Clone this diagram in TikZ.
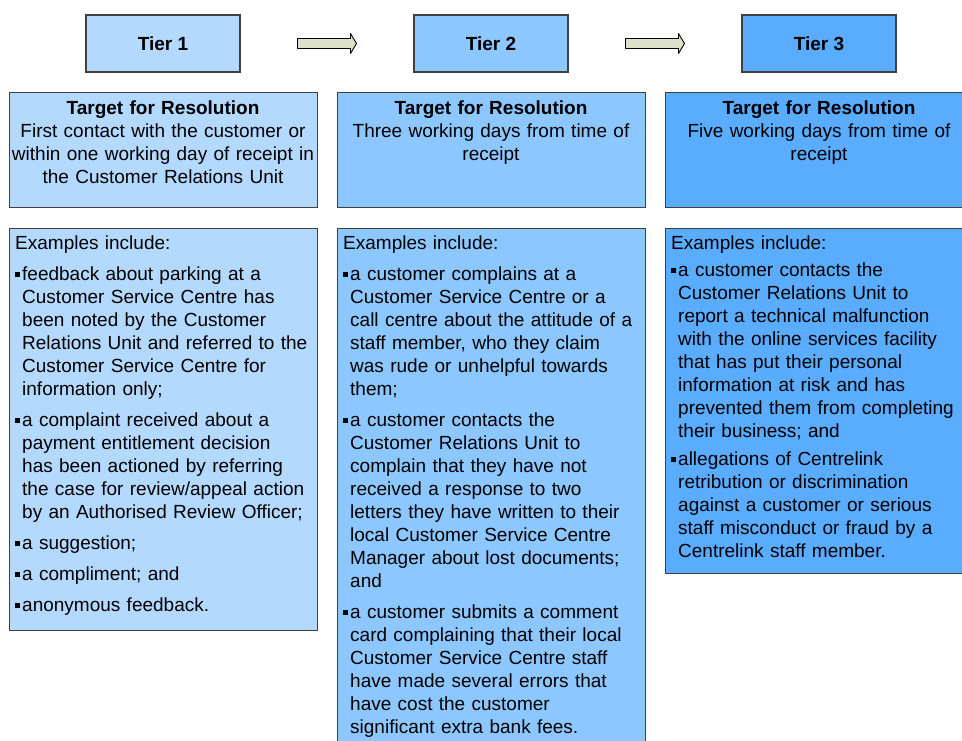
\documentclass[tikz,border=0pt]{standalone}
\usepackage{fontspec}
\setmainfont{Liberation Sans}
\usetikzlibrary{calc}

\definecolor{tierone}{RGB}{179,217,255}
\definecolor{tiertwo}{RGB}{141,199,255}
\definecolor{tierthree}{RGB}{90,172,255}
\definecolor{boxline}{RGB}{64,64,64}
\definecolor{arrowfill}{RGB}{221,225,202}

% square bullet and hanging indent for the example lists
\newcommand\sqb{\makebox[7pt][l]{\rule[3.5pt]{4.5pt}{5pt}}}
\newcommand\lnind{\hspace*{7pt}}

\begin{document}
\begin{tikzpicture}[x=1pt,y=-1pt,
  tierbox/.style={draw=boxline, line width=1.2pt, minimum width=154pt,
    minimum height=57pt, inner sep=0pt, font=\bfseries\fontsize{19}{23}\selectfont},
  panel/.style={draw=boxline, line width=1.2pt, anchor=north west,
    inner sep=0pt, minimum width=308pt},
  targettext/.style={anchor=base, inner sep=0pt, text width=306pt,
    align=center, font=\fontsize{19}{23}\selectfont},
  listtext/.style={anchor=base west, inner sep=0pt, text width=320pt,
    align=left, font=\fontsize{19}{23}\selectfont},
  blockarrow/.style={draw=black, line width=0.9pt, fill=arrowfill, line join=round}]

\useasboundingbox (0,0) rectangle (962,740);
\clip (0,0) rectangle (962,740);

% tier headings
\node[tierbox, fill=tierone]   (t1) at (163,43.5) {Tier 1};
\node[tierbox, fill=tiertwo]   (t2) at (491,43.5) {Tier 2};
\node[tierbox, fill=tierthree] (t3) at (819,43.5) {Tier 3};

% block arrows between the tiers
\foreach \a/\b in {t1/t2, t2/t3}{
  \coordinate (m) at ($(\a.east)!0.5!(\b.west)$);
  \draw[blockarrow] ($(m)+(-29.5,-5)$) -- ($(m)+(23.5,-5)$) -- ($(m)+(23.5,-10)$)
    -- ($(m)+(29.5,0)$) -- ($(m)+(23.5,10)$) -- ($(m)+(23.5,5)$)
    -- ($(m)+(-29.5,5)$) -- cycle;
}

% target panels
\node[panel, fill=tierone,   minimum height=115pt] (g1) at (9,92) {};
\node[panel, fill=tiertwo,   minimum height=115pt] (g2) at (337,92) {};
\node[panel, fill=tierthree, minimum height=115pt] (g3) at (665,92) {};

\node[targettext] (g1t) at (163,114) {\textbf{Target for Resolution}\\
  First contact with the customer or\\
  within one working day of receipt in\\
  the Customer Relations Unit};
\node[targettext] (g2t) at (491,114) {\textbf{Target for Resolution}\\
  Three working days from time of\\
  receipt};
\node[targettext] (g3t) at (819,114) {\textbf{Target for Resolution}\\
  Five working days from time of\\
  receipt};

% example panels
\node[panel, fill=tierone,   minimum height=402pt] (e1) at (9,228) {};
\node[panel, fill=tiertwo,   minimum height=540pt] (e2) at (337,228) {};
\node[panel, fill=tierthree, minimum height=345pt] (e3) at (665,228) {};

\node[listtext] (e1t) at (15,249) {Examples include:\\[8pt]
\sqb feedback about parking at a\\
\lnind Customer Service Centre has\\
\lnind been noted by the Customer\\
\lnind Relations Unit and referred to the\\
\lnind Customer Service Centre for\\
\lnind information only;\\[8pt]
\sqb a complaint received about a\\
\lnind payment entitlement decision\\
\lnind has been actioned by referring\\
\lnind the case for review/appeal action\\
\lnind by an Authorised Review Officer;\\[8pt]
\sqb a suggestion;\\[8pt]
\sqb a compliment; and\\[8pt]
\sqb anonymous feedback.};

\node[listtext] (e2t) at (343,249) {Examples include:\\[8pt]
\sqb a customer complains at a\\
\lnind Customer Service Centre or a\\
\lnind call centre about the attitude of a\\
\lnind staff member, who they claim\\
\lnind was rude or unhelpful towards\\
\lnind them;\\[8pt]
\sqb a customer contacts the\\
\lnind Customer Relations Unit to\\
\lnind complain that they have not\\
\lnind received a response to two\\
\lnind letters they have written to their\\
\lnind local Customer Service Centre\\
\lnind Manager about lost documents;\\
\lnind and\\[8pt]
\sqb a customer submits a comment\\
\lnind card complaining that their local\\
\lnind Customer Service Centre staff\\
\lnind have made several errors that\\
\lnind have cost the customer\\
\lnind significant extra bank fees.};

\node[listtext] (e3t) at (671,249) {Examples include:\\[4pt]
\sqb a customer contacts the\\
\lnind Customer Relations Unit to\\
\lnind report a technical malfunction\\
\lnind with the online services facility\\
\lnind that has put their personal\\
\lnind information at risk and has\\
\lnind prevented them from completing\\
\lnind their business; and\\[5pt]
\sqb allegations of Centrelink\\
\lnind retribution or discrimination\\
\lnind against a customer or serious\\
\lnind staff misconduct or fraud by a\\
\lnind Centrelink staff member.};

\end{tikzpicture}
\end{document}
